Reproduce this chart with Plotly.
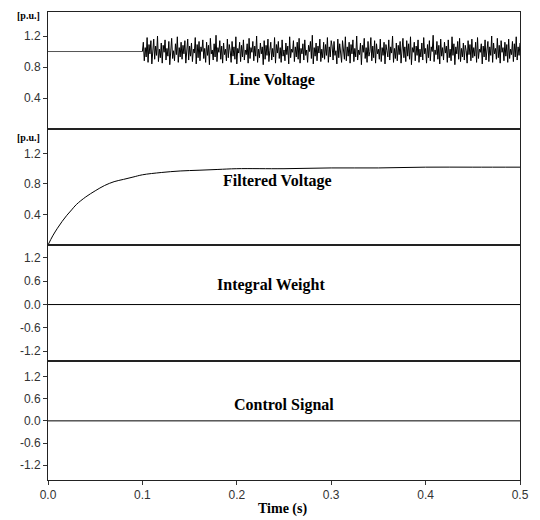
import numpy as np
import plotly.graph_objects as go
from plotly.subplots import make_subplots

# ---------------- data ----------------
# Line voltage: steady 1.0 p.u. until t = 0.1 s, then noisy (values estimated, 1 ms step)
line_t_steady = [0.0, 0.1]
line_v_steady = [1.0, 1.0]
line_v_noisy = [
    1.12, 0.88, 1.05, 0.93, 1.18, 0.86, 1.09, 0.97, 1.14, 0.84,
    1.02, 1.16, 0.90, 1.07, 0.95, 1.20, 0.87, 1.03, 0.92, 1.11,
    0.85, 1.08, 0.99, 1.15, 0.89, 1.04, 0.94, 1.13, 0.83, 1.06,
    1.17, 0.91, 1.01, 0.88, 1.10, 0.96, 1.19, 0.86, 1.05, 0.93,
    1.12, 0.90, 1.08, 0.97, 1.14, 0.85, 1.02, 1.16, 0.89, 1.07,
    0.94, 1.11, 0.87, 1.03, 0.98, 1.18, 0.84, 1.09, 0.92, 1.13,
    0.88, 1.06, 1.00, 1.15, 0.91, 1.04, 0.86, 1.12, 0.95, 1.08,
    0.83, 1.17, 0.97, 1.02, 0.89, 1.10, 0.93, 1.21, 0.87, 1.05,
    0.99, 1.14, 0.90, 1.07, 0.85, 1.11, 0.96, 1.03, 0.88, 1.16,
    0.92, 1.09, 1.01, 0.86, 1.13, 0.94, 1.06, 0.90, 1.19, 0.84,
    1.04, 0.98, 1.12, 0.87, 1.08, 0.93, 1.15, 0.89, 1.02, 0.96,
    1.10, 0.85, 1.17, 0.91, 1.05, 0.99, 1.13, 0.88, 1.07, 0.94,
    1.20, 0.86, 1.03, 0.92, 1.11, 0.97, 1.06, 0.83, 1.14, 0.90,
    1.08, 0.95, 1.16, 0.87, 1.01, 1.12, 0.89, 1.04, 0.93, 1.18,
    0.85, 1.09, 0.98, 1.13, 0.91, 1.05, 0.86, 1.15, 0.94, 1.02,
    0.88, 1.11, 0.96, 1.07, 0.84, 1.19, 0.92, 1.03, 0.99, 1.14,
    0.87, 1.06, 0.93, 1.12, 0.90, 1.17, 0.85, 1.04, 0.97, 1.10,
    0.89, 1.15, 0.95, 1.02, 0.86, 1.08, 1.00, 1.13, 0.91, 1.21,
    0.84, 1.05, 0.94, 1.11, 0.88, 1.07, 0.98, 1.16, 0.87, 1.03,
    0.92, 1.12, 0.90, 1.09, 0.95, 1.18, 0.86, 1.06, 0.93, 1.14,
    1.07, 0.89, 1.13, 0.95, 1.01, 0.84, 1.16, 0.92, 1.10, 0.98,
    0.86, 1.14, 1.03, 0.90, 1.19, 0.88, 1.06, 0.94, 1.12, 0.85,
    1.09, 0.97, 1.15, 0.87, 1.04, 0.93, 1.20, 0.89, 1.02, 0.96,
    1.11, 0.83, 1.08, 0.99, 1.17, 0.91, 1.05, 0.86, 1.13, 0.94,
    1.00, 1.18, 0.88, 1.07, 0.92, 1.14, 0.85, 1.10, 0.97, 1.03,
    0.90, 1.16, 0.87, 1.05, 0.95, 1.12, 0.84, 1.09, 1.01, 0.93,
    1.15, 0.89, 1.06, 0.98, 1.20, 0.86, 1.04, 0.91, 1.11, 0.88,
    1.08, 0.96, 1.13, 0.85, 1.02, 1.17, 0.92, 1.06, 0.87, 1.14,
    0.94, 1.10, 0.90, 1.19, 0.83, 1.05, 0.99, 1.12, 0.88, 1.07,
    0.95, 1.15, 0.86, 1.03, 0.93, 1.11, 0.89, 1.18, 0.97, 1.04,
    0.85, 1.09, 0.92, 1.14, 0.88, 1.06, 1.00, 1.21, 0.87, 1.02,
    0.96, 1.13, 0.90, 1.08, 0.84, 1.16, 0.94, 1.05, 0.89, 1.12,
    0.98, 1.07, 0.86, 1.15, 0.92, 1.03, 0.88, 1.19, 0.95, 1.10,
    0.83, 1.06, 0.97, 1.13, 0.90, 1.17, 0.87, 1.04, 0.93, 1.11,
    0.89, 1.08, 1.01, 0.85, 1.14, 0.96, 1.09, 0.88, 1.16, 0.92,
    1.05, 0.94, 1.12, 0.86, 1.18, 0.91, 1.03, 0.99, 1.10, 0.84,
    1.07, 0.93, 1.15, 0.89, 1.02, 1.13, 0.87, 1.06, 0.95, 1.20,
    0.86, 1.11, 0.97, 1.04, 0.90, 1.17, 0.92, 1.08, 0.85, 1.14,
    0.99, 1.05, 0.88, 1.12, 0.94, 1.09, 0.86, 1.16, 0.91, 1.03,
    0.96, 1.13, 0.87, 1.10, 0.93, 1.19, 0.89, 1.06, 0.95, 1.11,
]
noise_start, noise_end = 0.1, 0.5

# Filtered voltage
filt_t = [0.0, 0.005, 0.01, 0.015, 0.02, 0.025, 0.03, 0.04, 0.05, 0.06, 0.07,
          0.08, 0.09, 0.10, 0.12, 0.14, 0.16, 0.18, 0.20, 0.25, 0.30, 0.35,
          0.40, 0.45, 0.50]
filt_v = [0.0, 0.12, 0.22, 0.31, 0.39, 0.46, 0.53, 0.63, 0.71, 0.78, 0.83,
          0.86, 0.89, 0.92, 0.95, 0.97, 0.98, 0.99, 1.00, 1.00, 1.01, 1.01,
          1.02, 1.02, 1.02]

# Integral weight and control signal (flat zero)
iw_t = [0.0, 0.5]
iw_v = [0.0, 0.0]
cs_t = [0.0, 0.5]
cs_v = [0.0, 0.0]

panel_titles = ["Line Voltage", "Filtered Voltage", "Integral Weight", "Control Signal"]
title_pos = [(0.237, 0.63), (0.243, 0.84), (0.236, 0.49), (0.25, 0.44)]
x_ticks = [0.0, 0.1, 0.2, 0.3, 0.4, 0.5]
x_tick_text = ["0.0", "0.1", "0.2", "0.3", "0.4", "0.5"]
pu_ticks = [0.4, 0.8, 1.2]
pu_tick_text = ["0.4", "0.8", "1.2"]
sym_ticks = [-1.2, -0.6, 0.0, 0.6, 1.2]
sym_tick_text = ["-1.2", "-0.6", "0.0", "0.6", "1.2"]

# ---------------- figure ----------------
fig = make_subplots(rows=4, cols=1, shared_xaxes=True, vertical_spacing=0)

noise_t = np.linspace(noise_start, noise_end, len(line_v_noisy) + 1)[1:]
line = dict(color="black", width=1)

fig.add_trace(go.Scatter(x=line_t_steady, y=line_v_steady, mode="lines",
                         line=dict(color="#555", width=1)), row=1, col=1)
fig.add_trace(go.Scatter(x=[noise_start] + list(noise_t), y=[1.0] + line_v_noisy,
                         mode="lines", line=dict(color="black", width=1)), row=1, col=1)
fig.add_trace(go.Scatter(x=filt_t, y=filt_v, mode="lines", line=line, line_shape="spline"),
              row=2, col=1)
fig.add_trace(go.Scatter(x=iw_t, y=iw_v, mode="lines", line=line), row=3, col=1)
fig.add_trace(go.Scatter(x=cs_t, y=cs_v, mode="lines", line=line), row=4, col=1)

# domains (bottom-up) in paper fraction
domains = [[0.75, 1.0], [0.5021, 0.75], [0.2543, 0.5021], [0.0, 0.2543]]
yranges = [[0, 1.51], [0, 1.52], [-1.45, 1.53], [-1.6, 1.62]]
tickfont = dict(family="Liberation Sans, Arial, sans-serif", size=12, color="#333")

for i in range(4):
    ax = "yaxis" if i == 0 else f"yaxis{i+1}"
    if i < 2:
        tv, tt = pu_ticks, pu_tick_text
    else:
        tv, tt = sym_ticks, sym_tick_text
    fig.layout[ax].update(domain=domains[i], range=yranges[i], tickvals=tv, ticktext=tt,
                          ticks="outside", ticklen=4, tickcolor="#333", showgrid=False,
                          zeroline=False, showline=True, mirror=True, linecolor="#222",
                          linewidth=1, tickfont=tickfont)
    xax = "xaxis" if i == 0 else f"xaxis{i+1}"
    fig.layout[xax].update(range=[0, 0.5], showgrid=False, zeroline=False, showline=True,
                           mirror=True, linecolor="#222", linewidth=1,
                           tickvals=x_ticks, ticktext=x_tick_text, tickfont=tickfont,
                           ticks="outside" if i == 3 else "", ticklen=4, tickcolor="#333",
                           showticklabels=(i == 3))

serif_bold = dict(family="Liberation Serif, Times New Roman, serif", size=16, color="black")
for i, (name, (xp, yp)) in enumerate(zip(panel_titles, title_pos)):
    yref = "y" if i == 0 else f"y{i+1}"
    xref = "x" if i == 0 else f"x{i+1}"
    fig.add_annotation(x=xp, y=yp, xref=xref, yref=yref, text=f"<b>{name}</b>",
                       showarrow=False, font=serif_bold, xanchor="center", yanchor="middle")

# [p.u.] unit labels
small_bold = dict(family="Liberation Serif, Times New Roman, serif", size=10, color="black")
for ypx in [16, 137]:
    fig.add_annotation(x=(28 - 48) / 472, y=(480 - ypx) / 468, xref="paper", yref="paper",
                       text="<b>[p.u.]</b>", showarrow=False, font=small_bold,
                       xanchor="center", yanchor="middle")

# x-axis title
fig.add_annotation(x=(282 - 48) / 472, y=(480 - 509) / 468, xref="paper", yref="paper",
                   text="<b>Time (s)</b>", showarrow=False,
                   font=dict(family="Liberation Serif, Times New Roman, serif", size=14, color="black"),
                   xanchor="center", yanchor="middle")

fig.update_layout(width=540, height=520, margin=dict(l=48, r=20, t=12, b=40),
                  showlegend=False, plot_bgcolor="white", paper_bgcolor="white")

fig.write_html("out.html")
